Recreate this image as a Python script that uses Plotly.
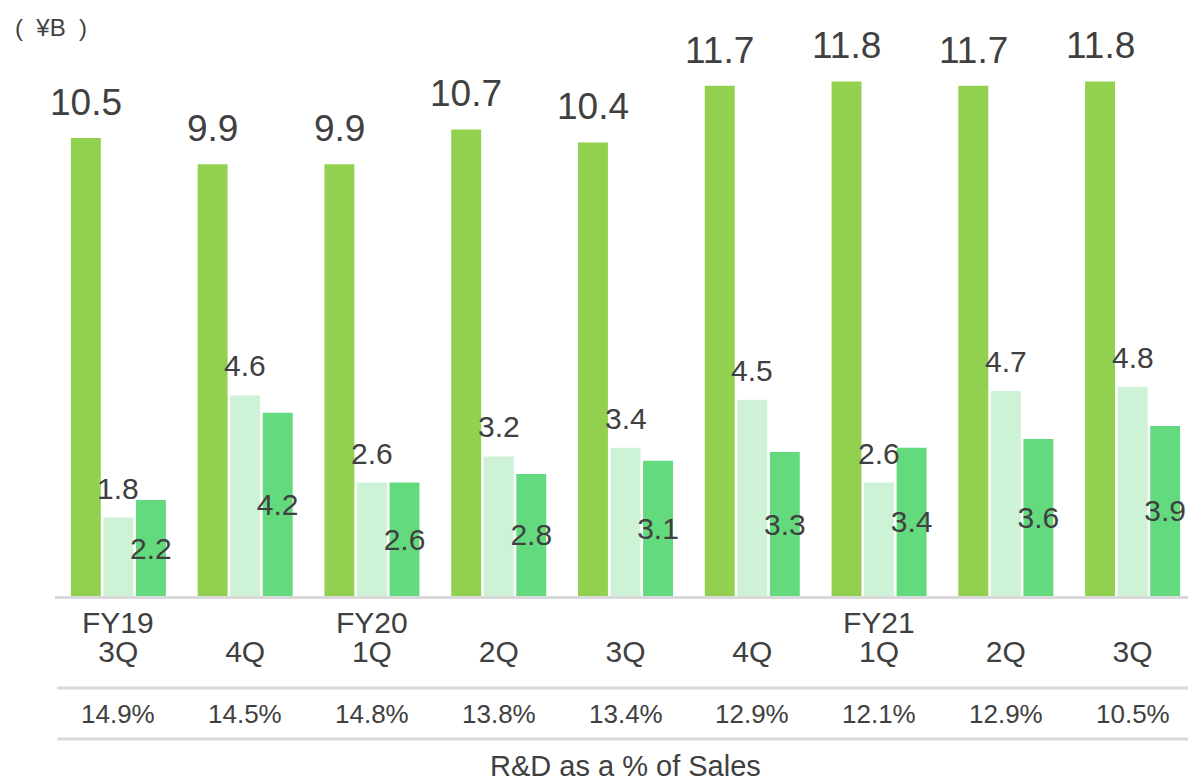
import plotly.graph_objects as go

fiscal_years = ["FY19", "", "FY20", "", "", "", "FY21", "", ""]
quarters = ["3Q", "4Q", "1Q", "2Q", "3Q", "4Q", "1Q", "2Q", "3Q"]
rd_total = [10.5, 9.9, 9.9, 10.7, 10.4, 11.7, 11.8, 11.7, 11.8]
series_b = [1.8, 4.6, 2.6, 3.2, 3.4, 4.5, 2.6, 4.7, 4.8]
series_c = [2.2, 4.2, 2.6, 2.8, 3.1, 3.3, 3.4, 3.6, 3.9]
pct_of_sales = ["14.9%", "14.5%", "14.8%", "13.8%", "13.4%", "12.9%", "12.1%", "12.9%", "10.5%"]

FONT = "Arial, Liberation Sans, sans-serif"
TXT = "#404040"
GRID = "#d9d9d9"
BARGAP = 0.23
BARGROUPGAP = 0.08
N_SERIES = 3

xpos = list(range(len(quarters)))
slot = (1 - BARGAP) / N_SERIES
offsets = [(k - (N_SERIES - 1) / 2) * slot for k in range(N_SERIES)]

fig = go.Figure()
fig.add_trace(go.Bar(
    x=xpos, y=rd_total, name="R&D",
    marker=dict(color="#92d050", line=dict(width=0)),
))
fig.add_trace(go.Bar(
    x=xpos, y=series_b, name="B",
    marker=dict(color="#cdf2d5", line=dict(width=0)),
))
fig.add_trace(go.Bar(
    x=xpos, y=series_c, name="C",
    marker=dict(color="#64da7f", line=dict(width=0)),
    text=[f"{v:.1f}" for v in series_c], textposition="inside",
    insidetextanchor="middle",
    textfont=dict(size=30, color=TXT, family=FONT), textangle=0,
    constraintext="none", cliponaxis=False,
))

annotations = []
for i, v in enumerate(rd_total):
    annotations.append(dict(x=xpos[i] + offsets[0], y=v, xref="x", yref="y",
                            text=f"{v:.1f}", showarrow=False, yanchor="bottom",
                            xanchor="center", yshift=13,
                            font=dict(size=37, color=TXT, family=FONT)))
for i, v in enumerate(series_b):
    annotations.append(dict(x=xpos[i] + offsets[1], y=v, xref="x", yref="y",
                            text=f"{v:.1f}", showarrow=False, yanchor="bottom",
                            xanchor="center", yshift=11,
                            font=dict(size=30, color=TXT, family=FONT)))
for i, fy in enumerate(fiscal_years):
    if fy:
        annotations.append(dict(x=xpos[i], xref="x", y=-0.047, yref="paper", text=fy,
                                showarrow=False, font=dict(size=30, color=TXT, family=FONT),
                                xanchor="center", yanchor="middle"))
for i, p in enumerate(pct_of_sales):
    annotations.append(dict(x=xpos[i], xref="x", y=-0.212, yref="paper", text=p,
                            showarrow=False, font=dict(size=26, color=TXT, family=FONT),
                            xanchor="center", yanchor="middle"))
annotations.append(dict(x=0.5, xref="paper", y=-0.306, yref="paper",
                        text="R&D as a % of Sales", showarrow=False,
                        font=dict(size=29, color=TXT, family=FONT),
                        xanchor="center", yanchor="middle"))
annotations.append(dict(x=-0.037, xref="paper", y=1.0216, yref="paper",
                        text="(  ¥B  )", showarrow=False,
                        font=dict(size=24, color=TXT, family=FONT),
                        xanchor="left", yanchor="middle"))

shapes = [
    dict(type="line", xref="paper", yref="paper", x0=0.002, x1=1, y0=-0.1655, y1=-0.1655,
         line=dict(color=GRID, width=3)),
    dict(type="line", xref="paper", yref="paper", x0=0.002, x1=1, y0=-0.257, y1=-0.257,
         line=dict(color=GRID, width=3)),
]

fig.update_layout(
    width=1188, height=771,
    margin=dict(l=47, r=0, t=32, b=183),
    paper_bgcolor="white", plot_bgcolor="white",
    barmode="group", bargap=BARGAP, bargroupgap=BARGROUPGAP,
    showlegend=False,
    font=dict(family=FONT, color=TXT),
    xaxis=dict(showline=True, linecolor=GRID, linewidth=3, ticks="",
               tickmode="array", tickvals=xpos, ticktext=quarters,
               ticklabelstandoff=27,
               range=[-0.5, len(quarters) - 0.5],
               tickfont=dict(size=30, color=TXT, family=FONT), showgrid=False,
               zeroline=False),
    yaxis=dict(range=[0, 12.75], visible=False, showgrid=False, zeroline=False),
    annotations=annotations,
    shapes=shapes,
)

fig.write_html("out.html")
